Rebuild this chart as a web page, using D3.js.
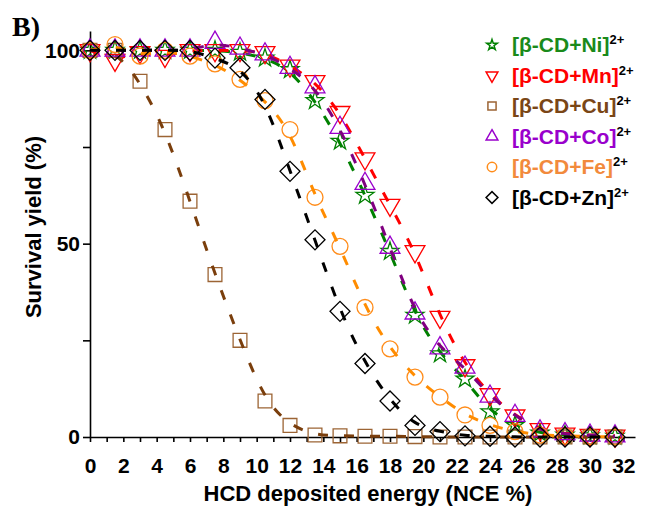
<!DOCTYPE html>
<meta charset="utf-8">
<style>
body { margin: 0; background: #fff; }
text { font-family: "Liberation Sans", Arial, sans-serif; font-weight: bold; }
.axis path, .axis line { stroke: #000; stroke-width: 1.6; }
.axis text { font-size: 21px; fill: #000; }
</style>
<body>
<script src="https://d3js.org/d3.v7.min.js"></script>
<script>

// NCE % steps
var energy = [0, 1.5, 3, 4.5, 6, 7.5, 9, 10.5, 12, 13.5, 15, 16.5, 18, 19.5, 21, 22.5, 24, 25.5, 27, 28.5, 30, 31.5];

var niYield = [100, 100, 100, 100, 100, 100, 99.5, 98, 95, 87, 76.5, 62.5, 48, 31.5, 21.5, 15, 6.5, 3, 1, 0.5, 0.3, 0.2];
var mnYield = [100, 97.5, 99.5, 98.5, 100, 100, 100, 99.5, 96, 92, 84, 72, 60, 48, 31, 18.5, 11, 5.5, 2, 0.8, 0.5, 0.3];
var cuYield = [100, 100, 92, 79.5, 61, 42, 25, 9.3, 3, 0.5, 0.3, 0.2, 0.2, 0.1, 0, 0, 0, 0, 0, 0, 0, 0];
var coYield = [100, 100, 100, 100, 100, 102, 100.5, 99, 95.5, 90.5, 80, 65.5, 49, 32, 23, 18, 10.5, 5.5, 1.5, 0.8, 0.4, 0.2];
var feYield = [100, 101.5, 98.5, 100, 98.5, 96.5, 92.5, 87, 79.5, 62, 49.3, 33.5, 22.8, 15.5, 10.3, 5.7, 3, 1.4, 0.5, 0.3, 0.1, 0];
var znYield = [100, 100, 100, 100, 100, 98, 95.5, 87.3, 68.7, 51, 32.5, 19, 9.3, 3, 1.4, 0.3, 0.2, 0, 0, 0, 0, 0];

var metals = ["Ni", "Mn", "Cu", "Co", "Fe", "Zn"];
var xTicks = d3.range(0, 33, 1);
var yTicks = [0, 25, 50, 75, 100];

var series = [
  {metal: "Ni", values: niYield, shape: "star", marker: "#008000", line: "#008000", label: "#1a8a1a"},
  {metal: "Mn", values: mnYield, shape: "down", marker: "#ff0000", line: "#ff0000", label: "#ff0000"},
  {metal: "Cu", values: cuYield, shape: "square", marker: "#9c6434", line: "#7a3e0c", label: "#7a4616"},
  {metal: "Co", values: coYield, shape: "up", marker: "#9900cc", line: "#800080", label: "#9900cc"},
  {metal: "Fe", values: feYield, shape: "circle", marker: "#ff8c1a", line: "#ff8c00", label: "#f28a3c"},
  {metal: "Zn", values: znYield, shape: "diamond", marker: "#000000", line: "#000000", label: "#000000"}
];

var width = 645, height = 507;

var svg = d3.select("body").append("svg")
    .attr("width", width)
    .attr("height", height);

var x = d3.scaleLinear().domain([0, 32.7]).range([90, 635]);
var y = d3.scaleLinear().domain([0, 105]).range([437, 31]);

// axes
svg.append("g")
    .attr("class", "axis")
    .attr("transform", "translate(0," + y(0) + ")")
    .call(d3.axisBottom(x).tickValues(xTicks).tickSize(5).tickSizeOuter(0).tickPadding(16)
        .tickFormat(function(d) { return d % 2 === 0 ? d : ""; }));

svg.append("g")
    .attr("class", "axis")
    .attr("transform", "translate(" + x(0) + ",0)")
    .call(d3.axisLeft(y).tickValues(yTicks).tickSize(7).tickSizeOuter(0).tickPadding(3)
        .tickFormat(function(d) { return d % 50 === 0 ? d : ""; }));

svg.append("text")
    .attr("x", 368).attr("y", 501)
    .attr("text-anchor", "middle")
    .style("font-size", "22px")
    .text("HCD deposited energy (NCE %)");

svg.append("text")
    .attr("transform", "translate(41,227) rotate(-90)")
    .attr("text-anchor", "middle")
    .style("font-size", "22px")
    .text("Survival yield (%)");

svg.append("text")
    .attr("x", 12).attr("y", 36)
    .style("font-family", "'Liberation Serif', 'Times New Roman', serif")
    .style("font-size", "28px")
    .text("B)");

function symbolPath(shape, s) {
  var sym;
  if (shape == "star") sym = d3.symbol(d3.symbolStar, 100 * s);
  else if (shape == "down" || shape == "up") sym = d3.symbol(d3.symbolTriangle, 170 * s);
  else if (shape == "square") sym = d3.symbol(d3.symbolSquare, 190 * s);
  else if (shape == "circle") sym = d3.symbol(d3.symbolCircle, 200 * s);
  else sym = d3.symbol(d3.symbolSquare, 200 * s);
  return sym();
}

function symbolRotate(shape) {
  if (shape == "down") return " rotate(180)";
  if (shape == "diamond") return " rotate(45)";
  return "";
}

var line = d3.line()
    .x(function(d) { return x(d[0]); })
    .y(function(d) { return y(d[1]); })
    .curve(d3.curveBasis);

series.forEach(function(s) {
  var pts = energy.map(function(e, i) { return [e, s.values[i]]; });

  svg.append("g").selectAll("path")
      .data(pts)
      .enter().append("path")
      .attr("d", symbolPath(s.shape, 1))
      .attr("transform", function(d) { return "translate(" + x(d[0]) + "," + y(d[1]) + ")" + symbolRotate(s.shape); })
      .style("fill", "none")
      .style("stroke", s.marker)
      .style("stroke-width", 1.3);

  svg.append("path")
      .datum(pts)
      .attr("d", line)
      .style("fill", "none")
      .style("stroke", s.line)
      .style("stroke-width", 3)
      .style("stroke-dasharray", "10,16");
});

// legend
var legend = svg.append("g").selectAll("g")
    .data(series)
    .enter().append("g")
    .attr("transform", function(d, i) { return "translate(492," + (45 + i * 30.5) + ")"; });

legend.append("path")
    .attr("d", function(d) { return symbolPath(d.shape, 0.35); })
    .attr("transform", function(d) { return symbolRotate(d.shape).trim(); })
    .style("fill", "none")
    .style("stroke", function(d) { return d.marker; })
    .style("stroke-width", 1.5);

var lt = legend.append("text")
    .attr("x", 20).attr("y", 7)
    .style("font-size", "21px")
    .style("fill", function(d) { return d.label; });

lt.append("tspan").text(function(d) { return "[\u03b2-CD+" + d.metal + "]"; });
lt.append("tspan")
    .attr("dy", -8)
    .style("font-size", "13px")
    .style("fill", "#000")
    .text("2+");

</script>
</body>
